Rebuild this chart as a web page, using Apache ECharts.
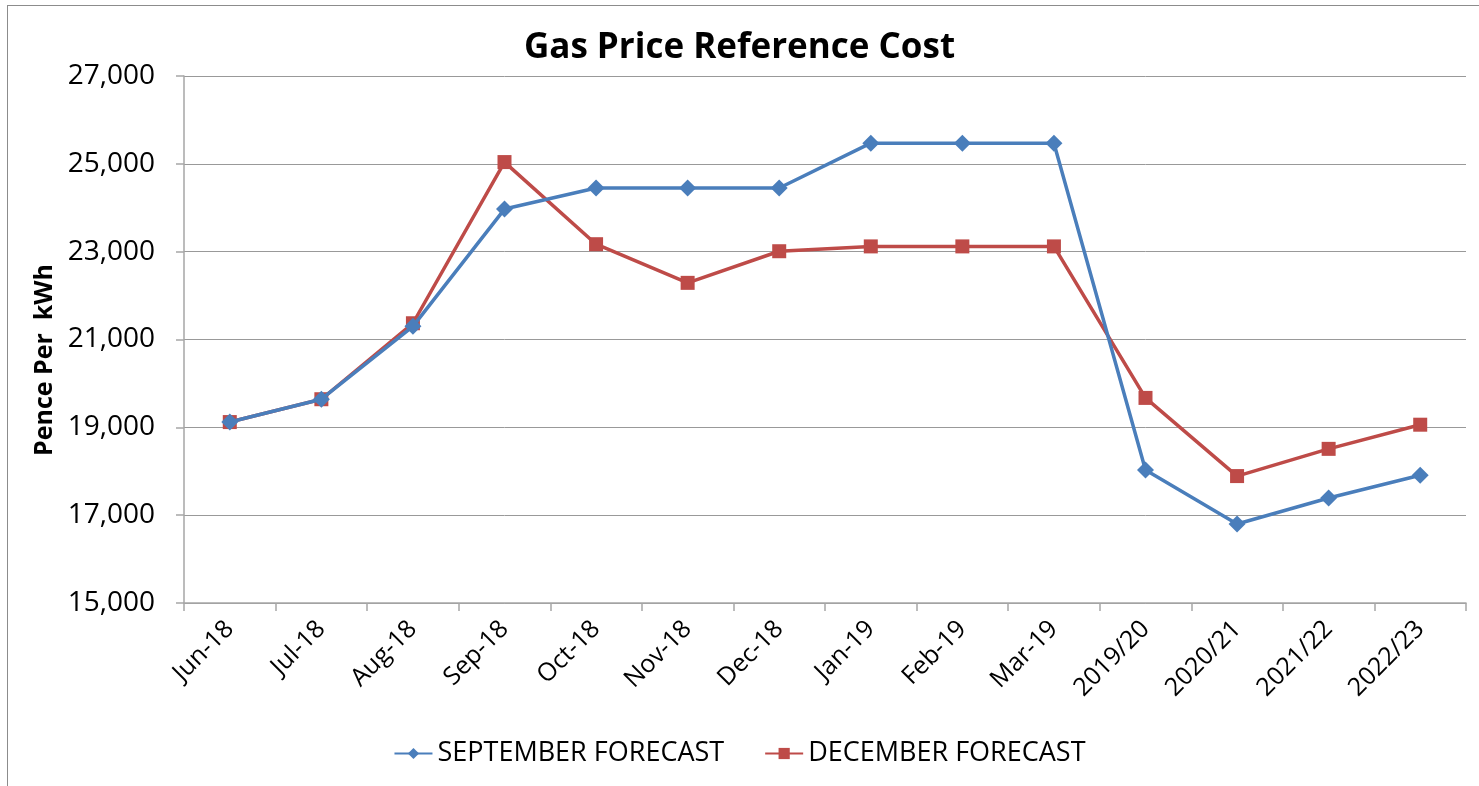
<!DOCTYPE html>
<html>
<head>
<meta charset="utf-8">
<title>Gas Price Reference Cost</title>
<script src="https://cdn.jsdelivr.net/npm/echarts@6/dist/echarts.min.js"></script>
<style>
    html, body { margin: 0; padding: 0; background: #fff; overflow: hidden; }
    #main { width: 1479px; height: 786px; }
    .frame { position: absolute; left: 7px; top: 5px; width: 1600px; height: 900px; border: 1px solid #8c8c8c; box-sizing: border-box; pointer-events: none; }
</style>
</head>
<body>
<div id="main"></div>
<div class="frame"></div>
<script>
    // 数据
    var categories = ['Jun-18', 'Jul-18', 'Aug-18', 'Sep-18', 'Oct-18', 'Nov-18', 'Dec-18',
        'Jan-19', 'Feb-19', 'Mar-19', '2019/20', '2020/21', '2021/22', '2022/23'];
    var septemberForecast = [19120, 19640, 21300, 23970, 24450, 24450, 24450,
        25470, 25470, 25470, 18030, 16800, 17390, 17910];
    var decemberForecast = [19120, 19640, 21370, 25040, 23170, 22290, 23010,
        23120, 23120, 23120, 19670, 17890, 18510, 19060];
    var yTitle = 'Pence Per  kWh';

    var font = '"Open Sans", sans-serif';
    var myChart = echarts.init(document.getElementById('main'));

    var option = {
        backgroundColor: '#fff',
        title: {
            text: 'Gas Price Reference Cost',
            left: 'center',
            top: 26,
            textStyle: { fontFamily: font, fontSize: 35, fontWeight: 'bold', color: '#000' }
        },
        // y轴标题
        graphic: [{
            type: 'text',
            x: 45,
            y: 360,
            rotation: Math.PI / 2,
            style: {
                text: yTitle,
                fontFamily: font,
                fontSize: 25,
                fontWeight: 'bold',
                fill: '#000',
                align: 'center',
                verticalAlign: 'middle'
            }
        }],
        legend: {
            bottom: 14,
            left: 'center',
            itemWidth: 38,
            itemHeight: 14,
            itemGap: 40,
            textStyle: { fontFamily: font, fontSize: 27, color: '#000' },
            data: ['SEPTEMBER FORECAST', 'DECEMBER FORECAST']
        },
        grid: { left: 184, right: 13, top: 76, bottom: 183 },
        xAxis: {
            type: 'category',
            data: categories,
            boundaryGap: true,
            axisLine: { lineStyle: { color: '#a6a6a6', width: 1.5 } },
            axisTick: { show: true, length: 8, interval: 0, lineStyle: { color: '#a6a6a6', width: 1.5 } },
            axisLabel: { rotate: 45, interval: 0, margin: 22, fontFamily: font, fontSize: 25, color: '#000' }
        },
        yAxis: {
            type: 'value',
            min: 15000,
            max: 27000,
            interval: 2000,
            axisLine: { show: true, lineStyle: { color: '#a6a6a6', width: 1.5 } },
            axisTick: { show: true, length: 8, lineStyle: { color: '#a6a6a6', width: 1.5 } },
            splitLine: { lineStyle: { color: '#999', width: 1 } },
            axisLabel: {
                margin: 29,
                fontFamily: font,
                fontSize: 28,
                color: '#000',
                formatter: function (v) { return v.toLocaleString('en-US'); }
            }
        },
        series: [
            {
                name: 'SEPTEMBER FORECAST',
                type: 'line',
                data: septemberForecast,
                symbol: 'diamond',
                symbolSize: 17,
                color: '#4a7ebb',
                lineStyle: { width: 3.5, color: '#4a7ebb' },
                itemStyle: { color: '#4a7ebb' },
                z: 3
            },
            {
                name: 'DECEMBER FORECAST',
                type: 'line',
                data: decemberForecast,
                symbol: 'rect',
                symbolSize: 14,
                color: '#be4b48',
                lineStyle: { width: 3.5, color: '#be4b48' },
                itemStyle: { color: '#be4b48' },
                z: 2
            }
        ]
    };
    myChart.setOption(option);
</script>
</body>
</html>
